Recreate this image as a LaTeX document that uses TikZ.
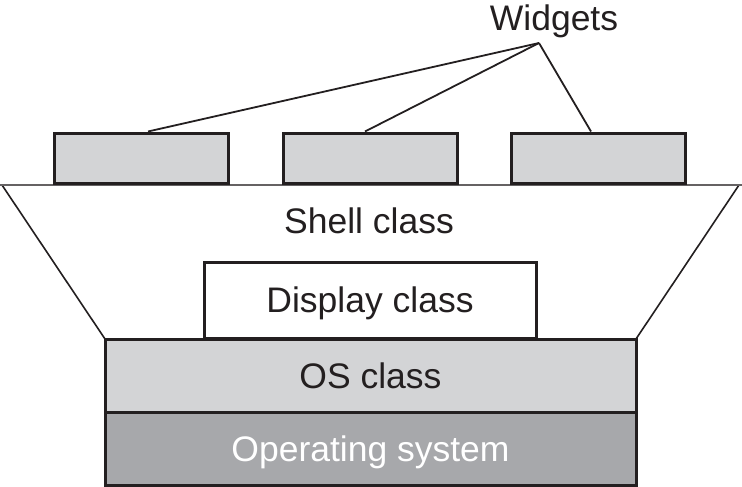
\documentclass[tikz,border=0pt]{standalone}
\usepackage{fontspec}
\setmainfont{Liberation Sans}
\usetikzlibrary{calc}
\definecolor{lightgrey}{HTML}{D3D4D6}
\definecolor{darkgrey}{HTML}{A7A8AB}
\definecolor{edge}{HTML}{231F20}
\begin{document}
\begin{tikzpicture}[x=1pt,y=-1pt,
  caps/.style={font=\fontsize{35.5}{40}\selectfont, text height=25.4pt, text depth=0pt},
  label text/.style={caps, text=edge},
  widget/.style={draw=edge, line width=3pt, fill=lightgrey, minimum width=174pt, minimum height=50pt, inner sep=0pt},
  layer/.style={caps, draw=edge, line width=3pt, minimum width=531pt, minimum height=73pt, inner sep=0pt},
  pointer/.style={draw=edge, line width=1.8pt}]
\useasboundingbox (0,0) rectangle (742,487);
% shell outline
\fill[white] (2,185) -- (739,185) -- (636,339) -- (105,339) -- cycle;
\draw[edge, line width=1.6pt] (2,185) -- (105,339);
\draw[edge, line width=1.6pt] (739,185) -- (636,339);
\draw[edge!70, line width=1.6pt] (0,185) -- (742,185);
\node[label text] (shell) at (369,220.5) {Shell class};
% widgets on top of the shell
\node[widget] (w1) at (141.5,158) {};
\node[widget] (w2) at (370,158) {};
\node[widget] (w3) at (598,158) {};
\node[label text] (wlabel) at (554,17.5) {Widgets};
\coordinate (apex) at (539,43);
\draw[pointer] (apex) -- ($(w1.north)+(6.5,0)$);
\draw[pointer] (apex) -- ($(w2.north)+(-5,0)$);
\draw[pointer] (apex) -- ($(w3.north)+(-7,0)$);
% inner stack
\node[caps, draw=edge, line width=3pt, fill=white, minimum width=332pt, minimum height=76pt, inner sep=0pt, text=edge] (display) at (370,300) {Display class};
\node[layer, fill=lightgrey, text=edge] (os) at (370.5,376) {OS class};
\node[layer, fill=darkgrey, text=white] (sys) at (370.5,449) {Operating system};
\end{tikzpicture}
\end{document}
